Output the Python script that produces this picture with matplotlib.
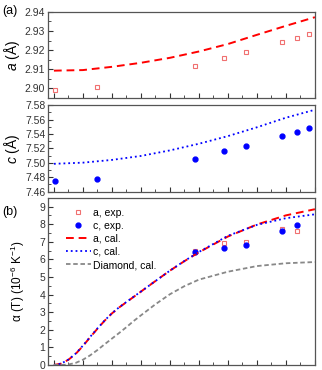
import matplotlib
matplotlib.use('Agg')
import matplotlib.pyplot as plt
from matplotlib.ticker import MultipleLocator

plt.rcParams['font.family'] = ['Liberation Sans', 'DejaVu Sans']
plt.rcParams['mathtext.fontset'] = 'custom'
plt.rcParams['mathtext.rm'] = 'Liberation Sans'
plt.rcParams['mathtext.it'] = 'Liberation Sans:italic'

# experimental temperatures (K)
T_exp = [10, 300, 975, 1175, 1325, 1575, 1675, 1760]
a_exp = [2.8993, 2.9007, 2.9118, 2.9160, 2.9189, 2.9242, 2.9265, 2.9284]
c_exp = [7.4744, 7.4777, 7.5056, 7.5163, 7.5233, 7.5372, 7.5433, 7.5484]

# calculated lattice parameters
T_cal = [0, 200, 400, 600, 800, 1000, 1200, 1400, 1600, 1800]
a_cal = [2.9093, 2.9096, 2.9113, 2.9134, 2.9160, 2.9193, 2.9232, 2.9280, 2.9327, 2.9372]
c_cal = [7.4986, 7.5002, 7.5040, 7.5095, 7.5172, 7.5264, 7.5370, 7.5492, 7.5625, 7.5735]

# thermal expansion (10^-6 K^-1)
T_alpha_exp = [975, 1175, 1325, 1575, 1675]
alpha_a_exp = [6.45, 6.94, 7.00, 7.74, 7.60]
alpha_c_exp = [6.42, 6.65, 6.84, 7.60, 7.93]

T_alpha = [0, 50, 100, 150, 200, 250, 300, 350, 400, 450, 500, 550, 600, 700, 800,
           900, 1000, 1200, 1400, 1600, 1800]
alpha_a = [0.0, 0.08, 0.30, 0.63, 1.08, 1.58, 2.06, 2.52, 2.93, 3.27, 3.57, 3.87, 4.17,
           4.77, 5.36, 5.90, 6.40, 7.30, 7.98, 8.50, 8.85]
alpha_c = [0.0, 0.08, 0.31, 0.65, 1.10, 1.60, 2.08, 2.53, 2.94, 3.28, 3.58, 3.88, 4.17,
           4.77, 5.36, 5.91, 6.42, 7.34, 7.96, 8.34, 8.56]
alpha_dia = [0.0, 0.0, 0.03, 0.12, 0.30, 0.55, 0.85, 1.18, 1.50, 1.82, 2.15, 2.50, 2.82,
             3.45, 4.02, 4.48, 4.85, 5.30, 5.62, 5.78, 5.85]

fig = plt.figure(figsize=(3.22, 3.70), dpi=100)
L, W = 0.149, 0.829
ax1 = fig.add_axes([L, 0.735, W, 0.233])
ax2 = fig.add_axes([L, 0.482, W, 0.234])
ax3 = fig.add_axes([L, 0.0135, W, 0.452])

sq_col = '#f07070'
for ax in (ax1, ax2, ax3):
    ax.set_xlim(-41, 1800)
    ax.xaxis.set_major_locator(MultipleLocator(200))
    ax.xaxis.set_minor_locator(MultipleLocator(100))
    ax.tick_params(which='both', direction='in', labelsize=7.5, colors='#333333',
                   top=False, right=False, pad=2)
    ax.tick_params(which='major', length=3.5, width=0.8)
    ax.tick_params(which='minor', length=2, width=0.6)
    for s in ax.spines.values():
        s.set_color('#555555')
        s.set_linewidth(0.9)
# x labels of the lower panel sit mostly below the picture edge
ax3.tick_params(axis='x', pad=4)

ax1.plot(T_exp, a_exp, 's', mfc='none', mec=sq_col, ms=3.5, mew=0.8)
ax1.plot(T_cal, a_cal, '--', color='red', lw=1.4, dashes=(4, 2.5))
ax1.set_ylim(2.895, 2.94)
ax1.yaxis.set_major_locator(MultipleLocator(0.01))
ax1.yaxis.set_minor_locator(MultipleLocator(0.005))
ax1.set_xticklabels([])
ax1.set_ylabel(r'$a$ ($\mathrm{\AA}$)', fontsize=10, labelpad=2)

ax2.plot(T_exp, c_exp, 'o', color='blue', ms=3.5)
ax2.plot(T_cal, c_cal, ':', color='blue', lw=1.3)
ax2.set_ylim(7.46, 7.58)
ax2.yaxis.set_major_locator(MultipleLocator(0.02))
ax2.yaxis.set_minor_locator(MultipleLocator(0.01))
ax2.set_xticklabels([])
ax2.set_ylabel(r'$c$ ($\mathrm{\AA}$)', fontsize=10, labelpad=2)

ax3.plot(T_alpha_exp, alpha_a_exp, 's', mfc='none', mec=sq_col, ms=3.5, mew=0.8,
         label='a, exp.')
ax3.plot(T_alpha_exp, alpha_c_exp, 'o', color='blue', ms=3.5, label='c, exp.')
ax3.plot(T_alpha, alpha_a, '--', color='red', lw=1.4, dashes=(4, 2.5), label='a, cal.')
ax3.plot(T_alpha, alpha_c, ':', color='blue', lw=1.3, label='c, cal.')
ax3.plot(T_alpha, alpha_dia, '--', color='#888888', lw=1.3, dashes=(2.5, 1.5),
         label='Diamond, cal.')
ax3.set_ylim(0, 9.5)
ax3.yaxis.set_major_locator(MultipleLocator(1))
ax3.yaxis.set_minor_locator(MultipleLocator(0.5))
ax3.set_ylabel(r'$\mathrm{\alpha}$ (T) (10$^{-6}$ K$^{-1}$)', fontsize=8.5, labelpad=9)
ax3.legend(loc='upper left', bbox_to_anchor=(0.04, 0.985), frameon=False, fontsize=7.5,
           handlelength=2.4, handletextpad=0.2, labelspacing=0.3, borderaxespad=0.3)

fig.text(0.008, 0.962, '(a)', fontsize=9)
fig.text(0.008, 0.418, '(b)', fontsize=9)

fig.savefig('out.png', dpi=100)
